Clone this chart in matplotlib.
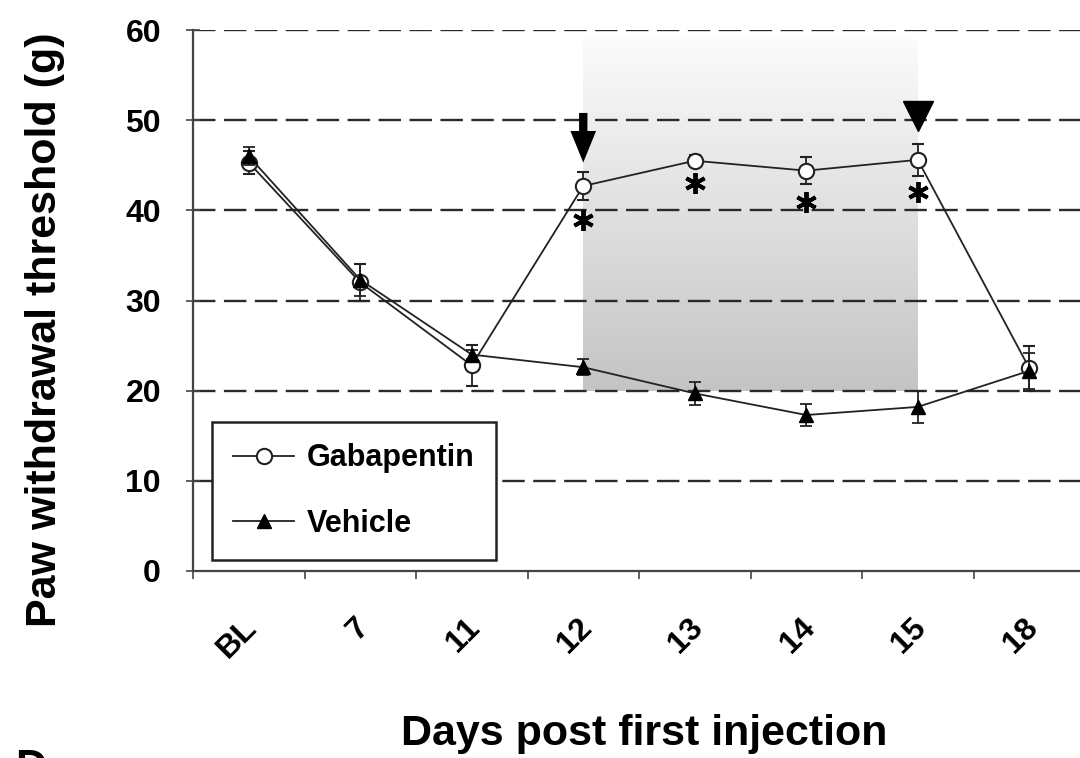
import numpy as np
import matplotlib.pyplot as plt
from matplotlib.colors import LinearSegmentedColormap
from matplotlib.lines import Line2D

# Paw withdrawal threshold (g), mean and SEM per day
days = ["BL", "7", "11", "12", "13", "14", "15", "18"]
gaba_mean = [45.3, 32.0, 22.8, 42.7, 45.5, 44.4, 45.6, 22.5]
gaba_sem = [1.3, 2.0, 2.3, 1.5, 0.6, 1.5, 1.8, 2.5]
veh_mean = [46.0, 32.3, 24.0, 22.6, 19.7, 17.3, 18.2, 22.2]
veh_sem = [1.0, 1.8, 0.5, 0.9, 1.3, 1.2, 1.8, 2.0]

# significance marks (day index, y position)
star_days = [3, 4, 5, 6]
star_y = [38.9, 43.0, 40.9, 42.0]

plt.rcParams["font.family"] = ["Liberation Sans", "DejaVu Sans"]
plt.rcParams["font.weight"] = "bold"

fig = plt.figure(figsize=(10.8, 7.58), dpi=100)
ax = fig.add_axes([193 / 1080, 1 - 571 / 758, 892 / 1080, 541 / 758])

x = np.arange(len(days))
dark = "#222222"

# shaded treatment window with vertical gradient
grad = np.linspace(0, 1, 256).reshape(-1, 1)
cmap = LinearSegmentedColormap.from_list("shade", ["#c4c4c4", "#fbfbfb"])
ax.imshow(grad, extent=(3, 6, 20, 59), origin="lower", cmap=cmap,
          aspect="auto", zorder=0)

# dashed gridlines
for v in range(10, 61, 10):
    ax.axhline(v, color="#2a2a2a", lw=1.7, ls=(0, (9.5, 3.6)), zorder=1)

ax.errorbar(x, gaba_mean, yerr=gaba_sem, color=dark, lw=1.3, marker="o",
            ms=11, mfc="white", mec=dark, mew=1.5, capsize=4, capthick=1.3,
            elinewidth=1.3, zorder=3)
ax.errorbar(x, veh_mean, yerr=veh_sem, color=dark, lw=1.3, marker="^",
            ms=9.5, mfc="black", mec="black", capsize=4, capthick=1.3,
            elinewidth=1.3, zorder=4)

ax.plot(star_days, star_y, ls="none", marker=(6, 2, 0), ms=15, mew=2.8,
        color="black", zorder=5)

# injection arrow at day 12, end marker at day 15
ax.arrow(3, 50.8, 0, -5.5, width=0.075, head_width=0.23, head_length=3.5,
         length_includes_head=True, color="black", lw=0, zorder=6)
ax.plot([6], [50.5], marker="v", ms=22, color="black", zorder=6)

ax.set_xlim(-0.5, 7.5)
ax.set_ylim(0, 60)

ax.spines["top"].set_visible(False)
ax.spines["right"].set_visible(False)
for s in ["left", "bottom"]:
    ax.spines[s].set_color("#444444")
    ax.spines[s].set_linewidth(1.6)

ax.set_yticks(range(0, 61, 10))
ax.tick_params(axis="y", direction="inout", length=10, width=1.2,
               color="#444444", labelsize=23, pad=18)

ax.set_xticks(x - 0.06)
ax.set_xticklabels(days, rotation=45, ha="right", va="top",
                   rotation_mode="anchor", fontsize=23)
ax.tick_params(axis="x", length=0, pad=30)
ax.set_xticks(np.arange(-0.5, 8, 1), minor=True)
ax.tick_params(axis="x", which="minor", length=6, width=1.2,
               color="#444444", direction="out")

# legend shows line + marker only
handles = [
    Line2D([], [], color=dark, lw=1.3, marker="o", ms=11, mfc="white",
           mec=dark, mew=1.5),
    Line2D([], [], color=dark, lw=1.3, marker="^", ms=9.5, mfc="black",
           mec="black"),
]
leg = ax.legend(handles, ["Gabapentin", "Vehicle"], loc="upper left",
                bbox_to_anchor=(0.0213, 0.2754), borderaxespad=0,
                fontsize=22, frameon=True, fancybox=False,
                handlelength=2.0, handletextpad=0.4, labelspacing=1.15,
                borderpad=0.7, framealpha=1)
leg.get_frame().set_edgecolor("#222222")
leg.get_frame().set_linewidth(1.8)

fig.text(45 / 1080, 1 - 330 / 758, "Paw withdrawal threshold (g)",
         rotation=90, ha="center", va="center", fontsize=31)
fig.text(644 / 1080, 1 - 745 / 758, "Days post first injection",
         ha="center", va="baseline", fontsize=31)
fig.text(15 / 1080, 1 - 748 / 758, "D", ha="left", va="top", fontsize=31)

fig.savefig("out.png", dpi=100)
